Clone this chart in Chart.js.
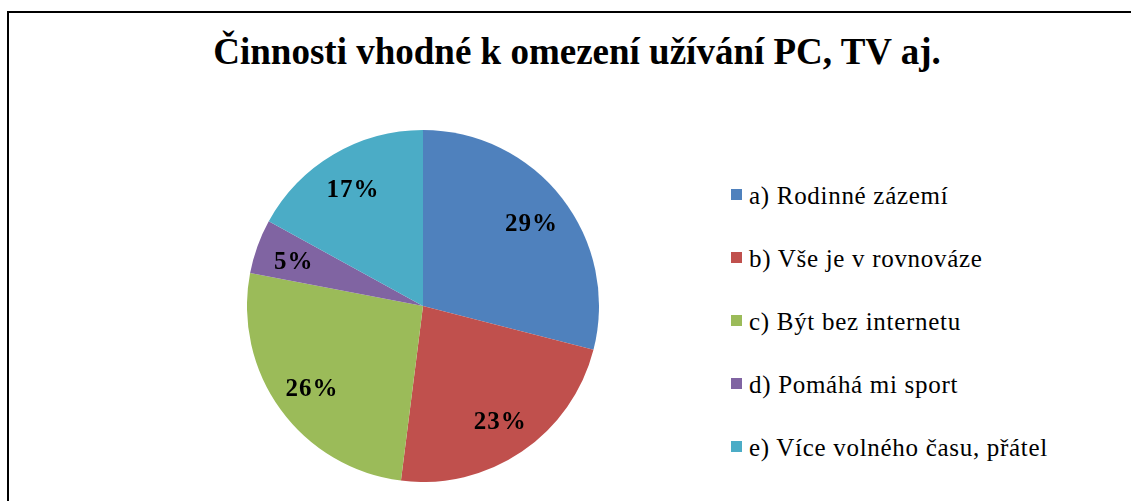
<!DOCTYPE html>
<html>
<head>
<meta charset="utf-8">
<script src="https://cdn.jsdelivr.net/npm/chart.js@4"></script>
<style>
    body { margin: 0; background: #fff; overflow: hidden; }
    #frame {
        position: absolute; left: 7px; top: 11px; width: 1200px; height: 600px;
        border-left: 2px solid #000; border-top: 2px solid #000;
    }
    #title {
        position: absolute; left: 0; top: 30px; width: 1154px; text-align: center;
        font: bold 37px "Liberation Serif", "Times New Roman", serif; color: #000;
    }
    #pie-wrap { position: absolute; left: 247px; top: 130px; width: 352px; height: 352px; }
    #legend { position: absolute; left: 731px; top: 183px; margin: 0; padding: 0; list-style: none; }
    #legend li {
        display: flex; align-items: flex-start; height: 63px;
        font: 25px/26px "Liberation Serif", "Times New Roman", serif; letter-spacing: 0.7px;
        color: #000; white-space: nowrap;
    }
    #legend span.box { display: inline-block; width: 11px; height: 11px; margin: 6px 7px 0 0; flex: none; }
</style>
</head>
<body>
<div id="frame"></div>
<div id="title">Činnosti vhodné k omezení užívání PC, TV aj.</div>
<div id="pie-wrap"><canvas id="pieChart"></canvas></div>
<ul id="legend"></ul>
<script>
// data
const categories = ['a) Rodinné zázemí', 'b) Vše je v rovnováze', 'c) Být bez internetu', 'd) Pomáhá mi sport', 'e) Více volného času, přátel'];
const shares = [29, 23, 26, 5, 17];
const sliceColors = ['#4f81bd', '#c0504d', '#9bbb59', '#8064a2', '#4bacc6'];

// popisky procent uvnitř výsečí
const pctLabels = {
    id: 'pctLabels',
    afterDatasetsDraw(chart) {
        const ctx = chart.ctx;
        const meta = chart.getDatasetMeta(0);
        ctx.save();
        ctx.font = 'bold 25px "Liberation Serif", "Times New Roman", serif';
        ctx.letterSpacing = '1px';
        ctx.fillStyle = '#000';
        ctx.textAlign = 'center';
        ctx.textBaseline = 'middle';
        meta.data.forEach((arc, i) => {
            const p = arc.getProps(['x', 'y', 'startAngle', 'endAngle', 'outerRadius']);
            const mid = (p.startAngle + p.endAngle) / 2;
            const r = p.outerRadius * 0.78;
            ctx.fillText(shares[i] + '%', p.x + Math.cos(mid) * r, p.y + Math.sin(mid) * r + 3);
        });
        ctx.restore();
    }
};

const pieChart = new Chart(document.getElementById('pieChart'), {
    type: 'pie',
    data: {
        labels: categories,
        datasets: [{
            data: shares,
            backgroundColor: sliceColors,
            borderWidth: 0
        }]
    },
    options: {
        responsive: true,
        maintainAspectRatio: false,
        animation: false,
        layout: { padding: 0 },
        plugins: {
            legend: { display: false },
            tooltip: { enabled: false }
        }
    },
    plugins: [pctLabels]
});

// legenda
const legend = document.getElementById('legend');
categories.forEach((name, i) => {
    const li = document.createElement('li');
    li.innerHTML = `<span class="box" style="background:${sliceColors[i]}"></span>${name}`;
    legend.appendChild(li);
});
</script>
</body>
</html>
